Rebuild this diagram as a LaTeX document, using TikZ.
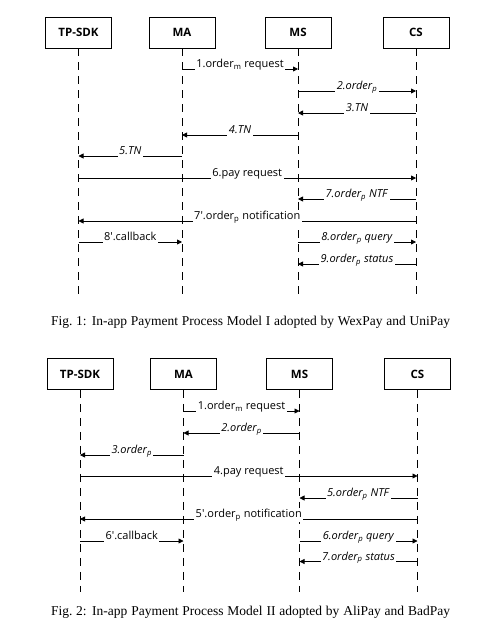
\documentclass[tikz,border=0pt]{standalone}
\usepackage{fontspec}
\setmainfont{Liberation Serif}
\newfontfamily\seqfont{Open Sans}
\usetikzlibrary{arrows.meta}
\tikzset{
  actor/.style={draw,line width=0.8pt,minimum width=66pt,minimum height=31pt,inner sep=0pt,
    font=\seqfont\fontsize{11.5}{13}\selectfont\bfseries},
  life/.style={line width=0.9pt,dash pattern=on 8pt off 6pt},
  msg/.style={line width=0.8pt,-{Triangle[length=5pt,width=5pt]}},
  lbl/.style={midway,anchor=base,yshift=1.5pt,fill=white,inner sep=1.5pt,text depth=2.5pt,
    font=\seqfont\fontsize{11}{13}\selectfont},
  caption/.style={inner sep=0pt,font=\fontsize{13.5}{16}\selectfont}
}
\newcommand{\actor}[3]{\node[actor] (#1) at (\x+#2,\y+32.5) {#3};}
\newcommand{\life}[1]{\draw[life] (#1) -- (#1 |- 0,\y+\ylife);}
\newcommand{\msg}[4]{\draw[msg] (#1 |- 0,\y+#3) -- node[lbl] {#4} (#2 |- 0,\y+#3);}
\newcommand{\ord}{order\textsubscript{p}}

\begin{document}
\begin{tikzpicture}[x=1pt,y=-1pt]
	\useasboundingbox (0,0) rectangle (489,635);
	% Fig. 1
	\def\x{0} \def\y{0} \def\ylife{297}
	\actor{sdk}{78.5}{TP-SDK} \actor{ma}{182}{MA} \actor{ms}{298}{MS} \actor{cs}{416}{CS}
	\life{sdk} \life{ma} \life{ms} \life{cs}
	\msg{ma}{ms}{69}{1.order\textsubscript{m} request}
	\msg{ms}{cs}{91}{\textit{2.\ord}}
	\msg{cs}{ms}{113}{\textit{3.TN}}
	\msg{ms}{ma}{135}{\textit{4.TN}}
	\msg{ma}{sdk}{156}{\textit{5.TN}}
	\msg{sdk}{cs}{178}{6.pay request}
	\msg{cs}{ms}{199}{\textit{7.\ord{} NTF}}
	\msg{cs}{sdk}{221}{7\textquotesingle.\ord{} notification}
	\msg{sdk}{ma}{242}{8\textquotesingle.callback}
	\msg{ms}{cs}{242}{\textit{8.\ord{} query}}
	\msg{cs}{ms}{264}{\textit{9.\ord{} status}}
	\node[caption] (capA) at (250.5,322) {\hbox to 399pt{Fig.~1: In-app Payment Process Model I adopted by WexPay and UniPay}};
	% Fig. 2
	\def\x{1.5} \def\y{341.5} \def\ylife{250.5}
	\actor{sdk}{78.5}{TP-SDK} \actor{ma}{182}{MA} \actor{ms}{298}{MS} \actor{cs}{416}{CS}
	\life{sdk} \life{ma} \life{ms} \life{cs}
	\msg{ma}{ms}{69.5}{1.order\textsubscript{m} request}
	\msg{ms}{ma}{91.5}{\textit{2.\ord}}
	\msg{ma}{sdk}{113.5}{\textit{3.\ord}}
	\msg{sdk}{cs}{134.5}{4.pay request}
	\msg{cs}{ms}{156.5}{\textit{5.\ord{} NTF}}
	\msg{cs}{sdk}{177.5}{5\textquotesingle.\ord{} notification}
	\msg{sdk}{ma}{199.5}{6\textquotesingle.callback}
	\msg{ms}{cs}{199.5}{\textit{6.\ord{} query}}
	\msg{cs}{ms}{220}{\textit{7.\ord{} status}}
	\node[caption] (capB) at (250.5,612) {\hbox to 399pt{Fig.~2: In-app Payment Process Model II adopted by AliPay and BadPay}};
\end{tikzpicture}
\end{document}
